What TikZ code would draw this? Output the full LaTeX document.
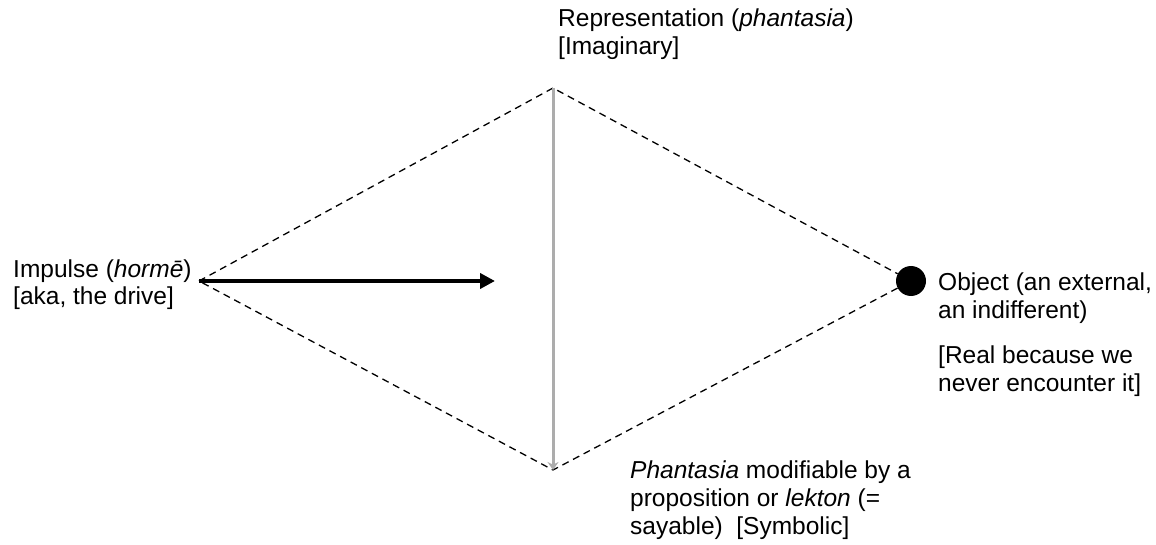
\documentclass[tikz,border=0pt]{standalone}
\usepackage{fontspec}
\setmainfont{Liberation Sans}
\usetikzlibrary{arrows.meta}

\begin{document}
\begin{tikzpicture}[x=1pt, y=-1pt,
    every node/.style={font=\fontsize{24.5}{28}\selectfont, inner sep=0pt, align=left},
    edge/.style={dash pattern=on 7pt off 5pt, line width=1.3pt}]
    \useasboundingbox (0,0) rectangle (1156,545);

    % The four corners of the diamond
    \coordinate (impulse) at (199,281);
    \coordinate (top) at (553,88);
    \coordinate (bottom) at (553,470);
    \node[circle, fill=black, minimum size=30pt] (object) at (911,281) {}; % the object

    % Dashed outline: impulse -> top -> object -> bottom -> impulse
    \draw[edge] (impulse) -- (top) -- (object);
    \draw[edge] (object) -- (bottom) -- (impulse);

    % Gray line from the representation down to the lekton
    \draw[gray!65, line width=3pt, -{Stealth[length=8pt,width=11pt]}] (top) -- (bottom);

    % The drive, pointing right
    \coordinate (aim) at (495,281);
    \draw[line width=3.8pt, -{Triangle[length=15pt,width=15pt]}] (impulse) -- (aim);

    % Labels (base anchor = baseline of the last line)
    \node[anchor=base west] (impulse label) at (13,305)
        {Impulse (\textit{hormē})\\{}[aka, the drive]};
    \node[anchor=base west] (top label) at (558,55)
        {Representation (\textit{phantasia})\\{}[Imaginary]};
    \node[anchor=base west] (object label) at (938,318)
        {Object (an external,\\an indifferent)};
    \node[anchor=base west] (real label) at (938,391)
        {[Real because we\\never encounter it]};
    \node[anchor=base west] (lekton label) at (630,534)
        {\textit{Phantasia} modifiable by a\\proposition or \textit{lekton} (=\\sayable)\ \ [Symbolic]};
\end{tikzpicture}
\end{document}
